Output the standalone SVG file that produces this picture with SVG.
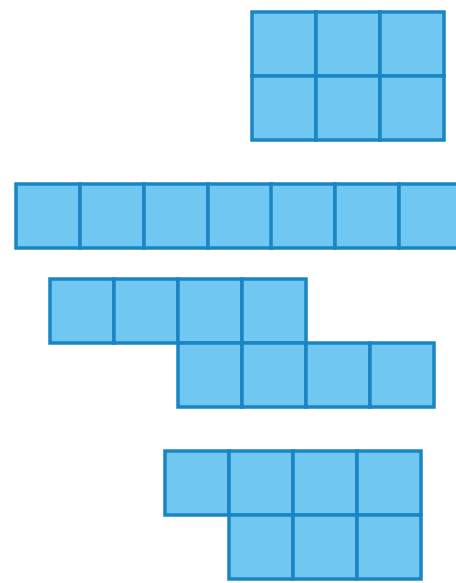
<svg xmlns="http://www.w3.org/2000/svg" width="456" height="583" viewBox="0 0 456 583">
<style>
.sq{fill:#70c8f2;stroke:#1a85c3;stroke-width:3.5;stroke-linejoin:miter}
</style>
<defs>
<rect id="s" class="sq" width="64" height="64"/>
</defs>
<rect width="456" height="583" fill="#ffffff"/>
<g id="shape1">
<use href="#s" x="252" y="12"/><use href="#s" x="316" y="12"/><use href="#s" x="380" y="12"/>
<use href="#s" x="252" y="76"/><use href="#s" x="316" y="76"/><use href="#s" x="380" y="76"/>
</g>
<g id="shape2">
<use href="#s" x="16" y="184"/><use href="#s" x="80" y="184"/><use href="#s" x="144" y="184"/><use href="#s" x="208" y="184"/><use href="#s" x="271" y="184"/><use href="#s" x="335" y="184"/><use href="#s" x="399" y="184"/>
</g>
<g id="shape3">
<use href="#s" x="50" y="279"/><use href="#s" x="114" y="279"/><use href="#s" x="178" y="279"/><use href="#s" x="242" y="279"/>
<use href="#s" x="178" y="343"/><use href="#s" x="242" y="343"/><use href="#s" x="306" y="343"/><use href="#s" x="370" y="343"/>
</g>
<g id="shape4">
<use href="#s" x="165" y="451"/><use href="#s" x="229" y="451"/><use href="#s" x="293" y="451"/><use href="#s" x="357" y="451"/>
<use href="#s" x="229" y="515"/><use href="#s" x="293" y="515"/><use href="#s" x="357" y="515"/>
</g>
</svg>
